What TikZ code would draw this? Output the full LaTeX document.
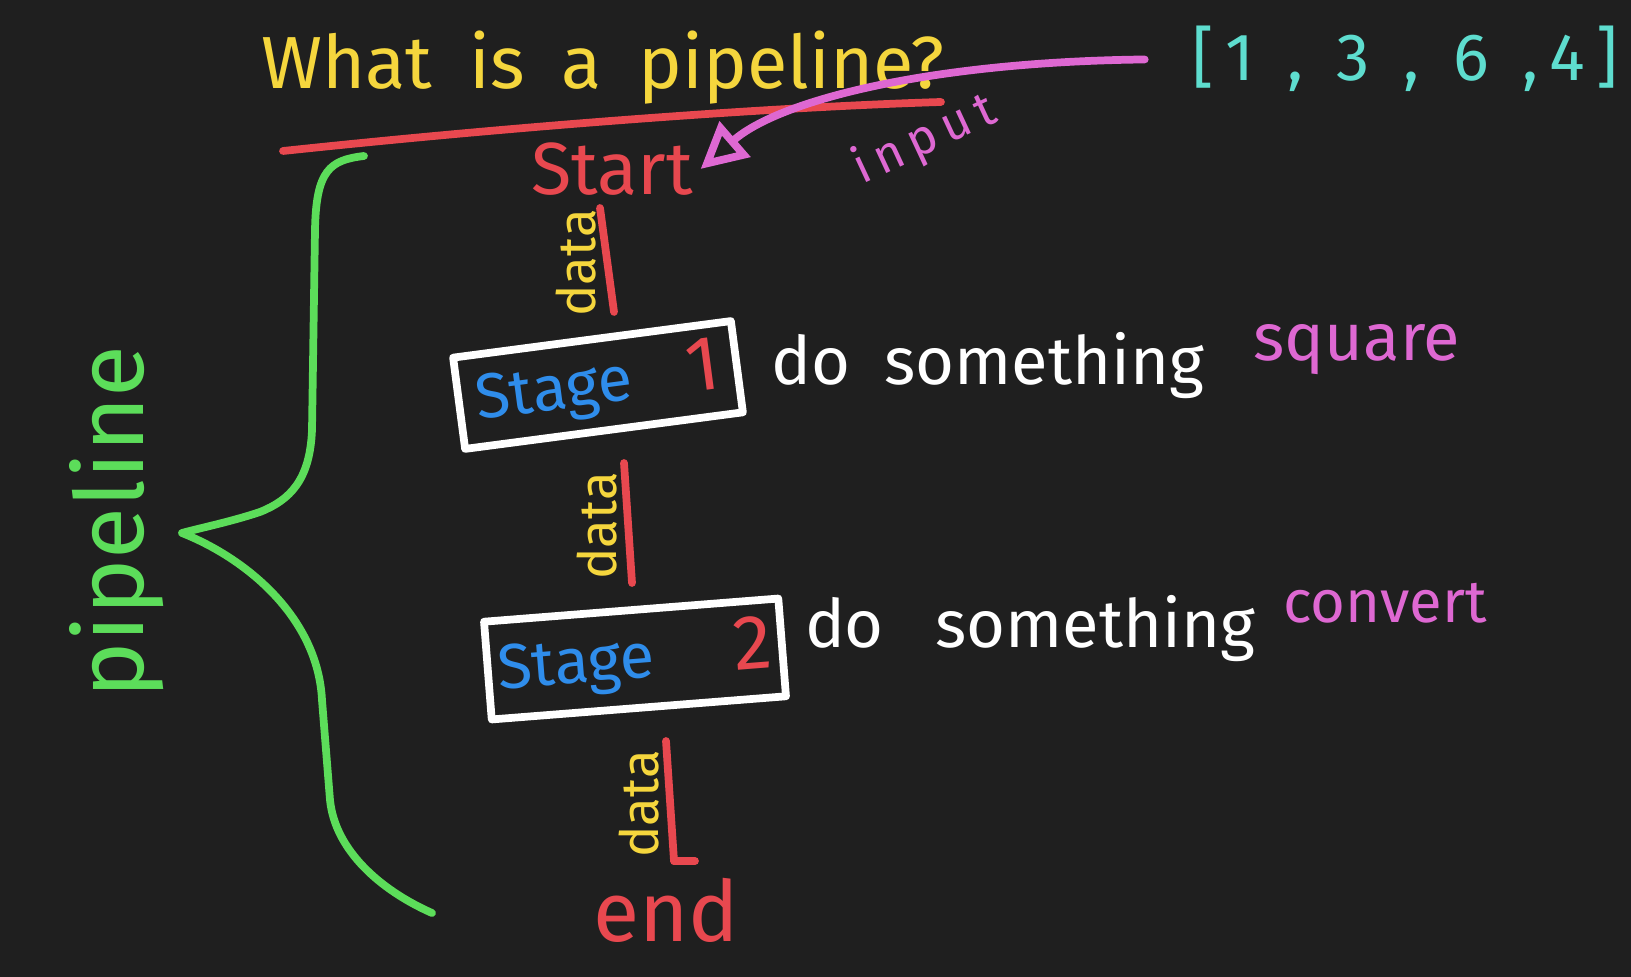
\documentclass[tikz,border=0pt]{standalone}
\usepackage{fontspec}
\setmainfont{Fira Sans}
\usetikzlibrary{arrows.meta,positioning,calc}
\definecolor{boardbg}{HTML}{1F1F1F}
\definecolor{chalkyellow}{HTML}{F5D63D}
\definecolor{chalkred}{HTML}{E8484F}
\definecolor{chalkcyan}{HTML}{5EDDCF}
\definecolor{chalkpink}{HTML}{DE68D2}
\definecolor{chalkgreen}{HTML}{5CDD5A}
\definecolor{chalkblue}{HTML}{2F8DEB}
\newcommand{\fs}[1]{\fontsize{#1}{#1}\selectfont}
\tikzset{
  pen/.style={line width=2.2pt, line cap=round, line join=round},
  stagebox/.style={draw=white, pen, minimum width=2.8cm, minimum height=0.92cm, inner sep=0pt},
  datalbl/.style={text=chalkyellow, font=\fs{15}, rotate=90},
  redpen/.style={pen, draw=chalkred},
  handtext/.style={font=\fs{19}}
}

\begin{document}
\begin{tikzpicture}[x=0.01cm, y=-0.01cm, every node/.style={align=center, inner sep=2pt}]
  \fill[boardbg] (0,0) rectangle (1631,977);

  \node[text=chalkyellow, font=\fs{21}] (title) at (603,68) {What\enspace is\enspace a\enspace pipeline?};
  \draw[redpen] (283,151) .. controls (500,128) and (750,108) .. (941,102);
  \node[text=chalkcyan, font=\fs{19}] (list) at (1405,59) {[\,1\enspace,\enspace 3\enspace,\enspace 6\enspace,\,4\,]};

  \node[text=chalkred, font=\fs{21}] (start) at (612,169) {Start};
  \node[text=chalkpink, font=\fs{14}, rotate=25] (input) at (925,140) {i\,n\,p\,u\,t};
  \draw[pen, draw=chalkpink, shorten <=0.4cm, -{Triangle[open, length=13pt, width=13pt]}]
    (list.west) .. controls (930,62) and (780,100) .. (start.east);

  \node[stagebox, rotate=7.5] (stageone) at (598,385)
    {\fs{18}\textcolor{chalkblue}{Stage}\hspace{0.55cm}\textcolor{chalkred}{\fs{22}1}};
  \node[text=white, handtext] (do1) at (988,366) {do\enspace something};
  \node[text=chalkpink, handtext] (square) at (1357,350) {square};

  \node[stagebox, rotate=4.5, minimum width=2.95cm, minimum height=0.98cm] (stagetwo) at (635,659)
    {\fs{18}\textcolor{chalkblue}{Stage}\hspace{0.8cm}\textcolor{chalkred}{\fs{22}2}};
  \node[text=white, handtext] (do2) at (1030,629) {do\enspace\ something};
  \node[text=chalkpink, font=\fs{17}] (convert) at (1385,603) {convert};

  \node[text=chalkred, font=\fs{24}] (end) at (666,910) {end};

  \foreach \i/\xa/\ya/\xb/\yb in {1/600/208/614/312, 2/624/463/632/583, 3/666/741/674/861}{
    \draw[redpen] (\xa,\ya) coordinate (dtop\i) -- (\xb,\yb) coordinate (dbot\i);
    \node[datalbl] (data\i) at ($(dtop\i)!0.5!(dbot\i)+(-31,3)$) {data};
  }
  \draw[redpen] (dbot3) -- ++(21,0);

  \draw[pen, draw=chalkgreen] (364,156) .. controls (330,160) and (316,170) .. (315,230)
    -- (312,430) .. controls (310,480) and (290,500) .. (260,512)
    .. controls (230,522) and (200,528) .. (182,533)
    .. controls (250,560) and (318,620) .. (322,700)
    -- (330,800) .. controls (335,850) and (380,890) .. (432,913);
  \node[text=chalkgreen, font=\fs{27}, rotate=90] (pipeline) at (117,522) {pipeline};
\end{tikzpicture}
\end{document}
